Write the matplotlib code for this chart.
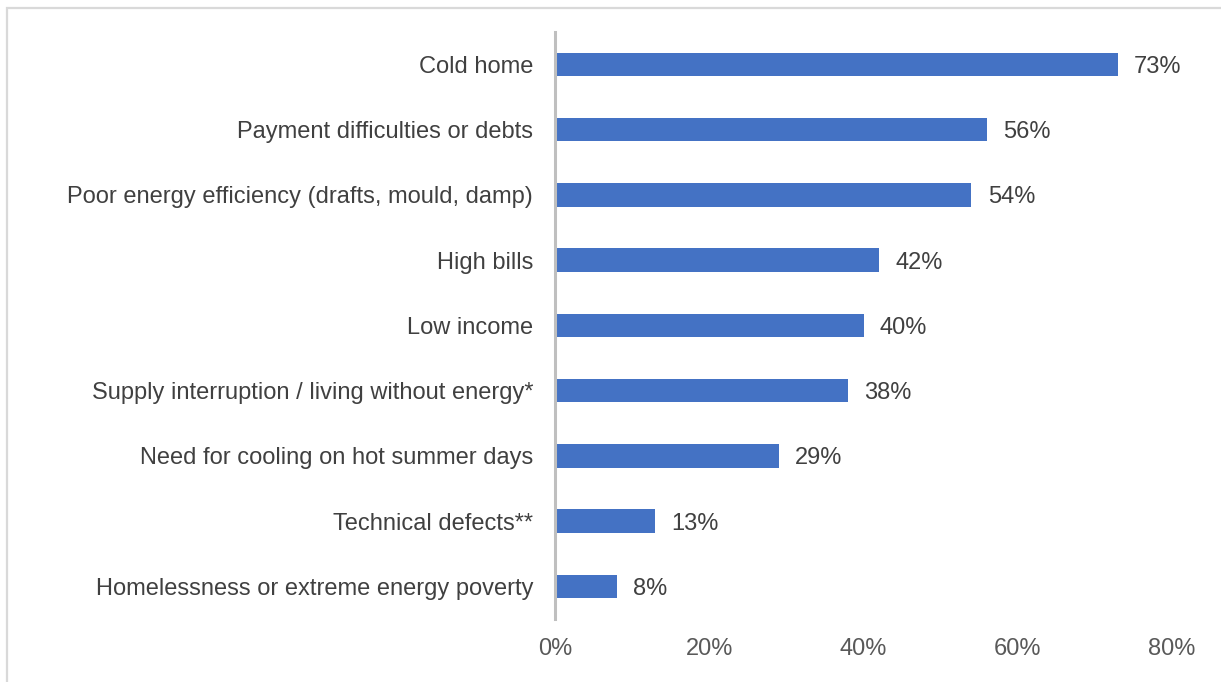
import matplotlib
matplotlib.use("Agg")
import matplotlib.pyplot as plt
from matplotlib.patches import Rectangle

categories = [
    "Cold home",
    "Payment difficulties or debts",
    "Poor energy efficiency (drafts, mould, damp)",
    "High bills",
    "Low income",
    "Supply interruption / living without energy*",
    "Need for cooling on hot summer days",
    "Technical defects**",
    "Homelessness or extreme energy poverty",
]
values = [73, 56, 54, 42, 40, 38, 29, 13, 8]
xticks = [0, 20, 40, 60, 80]
xtick_labels = ["0%", "20%", "40%", "60%", "80%"]

plt.rcParams['font.family'] = ['Liberation Sans', 'DejaVu Sans']

W, H = 1221, 682
fig = plt.figure(figsize=(W / 100, H / 100), dpi=100)
fig.patch.set_facecolor("white")

# outer border
fig.patches.append(Rectangle((7.5 / W, -0.01), 1.02, (H - 7.5) / H + 0.01, transform=fig.transFigure,
                             fill=False, edgecolor="#D9D9D9", linewidth=1.6))

left, right = 555 / W, 1172 / W
top, bottom = 1 - 31.8 / H, 1 - 618.9 / H
ax = fig.add_axes([left, bottom, right - left, top - bottom])

FS = 17
y = list(range(len(categories)))
ax.barh(y, values, height=0.36, color="#4472C4", zorder=2)
ax.set_ylim(len(categories) - 0.5, -0.5)
ax.set_xlim(0, 80)
ax.set_yticks(y)
ax.set_yticklabels(categories, fontsize=FS, color="#404040")
ax.set_xticks(xticks)
ax.set_xticklabels(xtick_labels, fontsize=FS, color="#595959")
ax.tick_params(axis="both", length=0)
ax.tick_params(axis="y", pad=15.8)
ax.tick_params(axis="x", pad=14)

for s in ["top", "right", "bottom"]:
    ax.spines[s].set_visible(False)
ax.spines["left"].set_color("#BFBFBF")
ax.spines["left"].set_linewidth(2.2)
ax.spines["left"].set_zorder(3)

for yi, v in zip(y, values):
    ax.text(v + 2.1, yi, f"{v}%", va="center_baseline", ha="left", fontsize=FS, color="#404040")

fig.savefig("out.png", dpi=100, facecolor="white")
